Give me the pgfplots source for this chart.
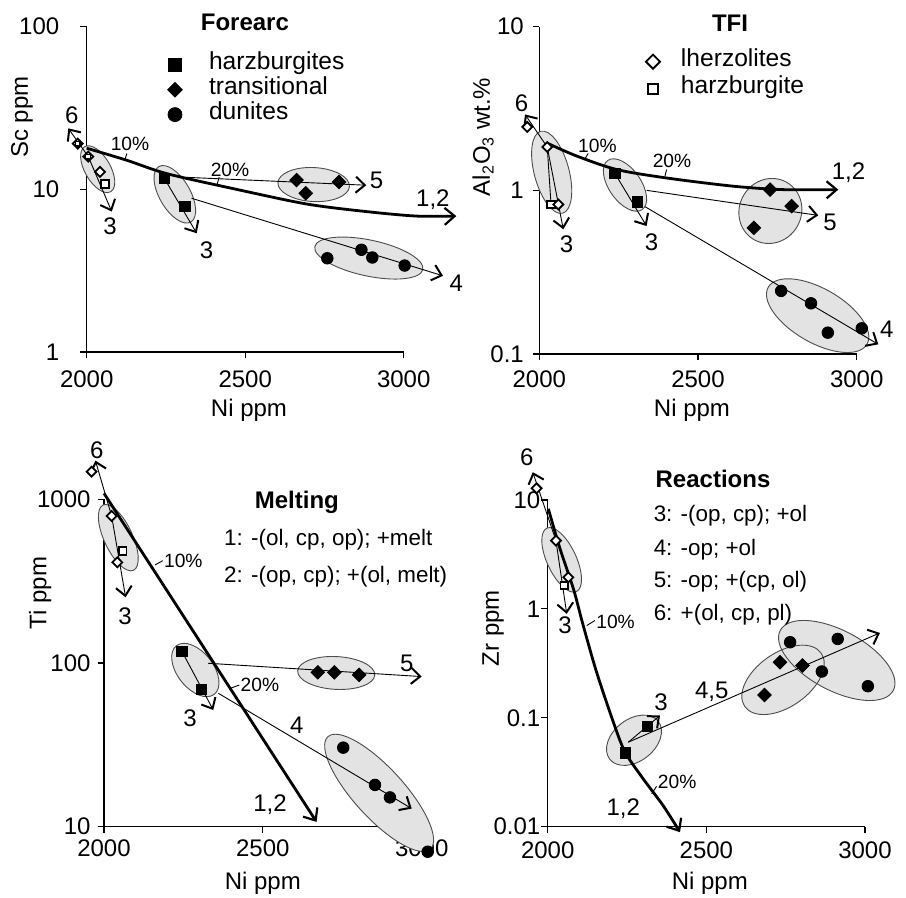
\documentclass[border=0pt]{standalone}
\usepackage{fontspec}
\setmainfont{Liberation Sans}
\setsansfont{Liberation Sans}
\usepackage{pgfplots}
\pgfplotsset{compat=1.18}
\usetikzlibrary{arrows.meta}
\newcommand\fs{\fontsize{12}{14.4}\selectfont}
\newcommand\fsl{\fontsize{12.3}{14.8}\selectfont}
\newcommand\fsp{\fontsize{9.6}{11.5}\selectfont}
\newcommand\fsr{\fontsize{11.2}{13.4}\selectfont}
\definecolor{efill}{gray}{0.89}
\definecolor{edraw}{gray}{0.3}
\newcommand\EF[5]{\fill[efill, rotate around={#5:(axis cs:#1,#2)}] (axis cs:#1,#2) ellipse [x radius=#3pt, y radius=#4pt];}
\newcommand\ED[5]{\draw[edraw, line width=0.45pt, rotate around={#5:(axis cs:#1,#2)}] (axis cs:#1,#2) ellipse [x radius=#3pt, y radius=#4pt];}
\newcommand\EE[5]{\EF{#1}{#2}{#3}{#4}{#5}\ED{#1}{#2}{#3}{#4}{#5}}
\pgfplotsset{
  panel/.style={
    scale only axis, clip=false,
    axis lines*=left, axis line style={-, line width=0.6pt},
    xmin=2000, xmax=3000, enlargelimits=false,
    xtick={2000,2500,3000}, xticklabels={2000,2500,3000},
    yminorticks=false, xminorticks=false,
    tick align=outside, major tick length=3.2pt,
    tick style={black, line width=0.6pt},
    every tick label/.append style={font=\fs},
    label style={font=\fs},
    xlabel={Ni ppm},
    /pgf/number format/assume math mode=true,
    legend cell align=left,
  },
  legimg/.style={legend image code/.code={\pgfpathrectangle{\pgfpoint{0pt}{-3pt}}{\pgfpoint{12pt}{6pt}}\pgfusepath{}\draw[##1] plot coordinates {(6pt,0pt)};}},
  harz/.style={only marks, mark=square*, mark size=2.6pt, black},
  trans/.style={only marks, mark=square*, mark size=2.4pt, black, mark options={rotate=45}},
  dun/.style={only marks, mark=*, mark size=2.9pt, black},
  lherz/.style={only marks, mark=square*, mark size=1.75pt, black, mark options={rotate=45, fill=white, draw=black, line width=0.9pt}},
  oharz/.style={only marks, mark=square*, mark size=1.9pt, black, mark options={fill=white, draw=black, line width=0.9pt}},
  tl/.style={black, line width=0.45pt},
  arr/.style={black, line width=0.45pt, -{Straight Barb[length=4.5pt,width=8pt,line width=1pt]}},
  meltc/.style={black, line width=1.4pt, smooth, -{Straight Barb[length=5pt,width=8.5pt,line width=1.1pt]}},
}
\begin{document}
\begin{tikzpicture}
\useasboundingbox (0pt,0pt) rectangle (453pt,449pt);

% ---------------- Forearc ----------------
\begin{semilogyaxis}[panel, at={(43.35pt,273pt)}, anchor=south west,
  width=158.5pt, height=162.65pt,
  ymin=1, ymax=100, ytick={1,10,100}, yticklabels={1,10,100},
  yticklabel style={xshift=-7pt}, xticklabel style={yshift=-2.5pt},
  ylabel={Sc ppm},
  ylabel style={at={(axis description cs:-0.204,0.722)}, anchor=center},
  xlabel style={at={(axis description cs:0.512,-0.178)}, anchor=center},
  legend style={at={(axis description cs:0.2407,0.9135)}, anchor=north west, draw=none, fill=none,
    inner sep=0pt, outer sep=0pt, font=\fsl, row sep=2.45pt, column sep=11pt,
    nodes={inner sep=0pt, text height=0.75em, text depth=0.25em}},
]
\addlegendimage{harz, mark size=3.1pt, legimg}
\addlegendimage{trans, mark size=2.6pt, legimg}
\addlegendimage{dun, mark size=3.5pt, legimg}
\legend{harzburgites, transitional, dunites}
\EE{2034.7}{13.3}{13}{6.4}{-60}
\EE{2278}{9.32}{16}{7.7}{-60}
\EE{2716}{10.7}{17.9}{8.5}{-3}
\EE{2890}{3.78}{27.6}{9}{-12}
\addplot[arr] coordinates {(2005,15.9) (1942,23.7)};
\addplot[arr] coordinates {(2005,15.9) (2079,7.3)};
\addplot[arr] coordinates {(2244.7,11.7) (2347,5.37)};
\addplot[arr] coordinates {(2315,11.85) (2882,10.6)};
\addplot[arr] coordinates {(2331,8.81) (3124,2.94)};
\addplot[meltc] coordinates {(2000,17.9) (2126,15.1) (2252,12.5) (2462,10.1) (2693,8.13) (2882,7.3) (3040,6.85) (3166,6.85)};
\addplot[tl] coordinates {(2120,15.2) (2127,16.6)};
\addplot[tl] coordinates {(2411,10.65) (2418,11.9)};
\addplot[lherz] coordinates {(1971.6,19.1) (2005,15.9) (2042,12.8)};
\addplot[oharz, mark size=1.2pt, mark options={line width=0.6pt, fill=white, draw=black}] coordinates {(1971.6,19.1) (2005,15.9)};
\addplot[oharz] coordinates {(2058,10.8)};
\addplot[harz] coordinates {(2244.7,11.7) (2310,7.83)};
\addplot[trans] coordinates {(2662,11.4) (2691,9.45) (2796,11.1)};
\addplot[dun] coordinates {(2759,3.77) (2866.6,4.25) (2901,3.81) (3003,3.40)};
\node[font=\fs\bfseries] at (axis description cs:0.499,1.0145) {Forearc};
\node[font=\fs] at (axis cs:1952.7,28.6) {6};
\node[font=\fs] at (axis cs:2073.5,5.91) {3};
\node[font=\fs] at (axis cs:2378,4.25) {3};
\node[font=\fs] at (axis cs:2914,11.4) {5};
\node[font=\fs] at (axis cs:3092,8.6) {1,2};
\node[font=\fs] at (axis cs:3166,2.65) {4};
\node[font=\fsp] at (axis cs:2136.5,19.1) {10\%};
\node[font=\fsp] at (axis cs:2452,13.1) {20\%};
\end{semilogyaxis}

% ---------------- TFI ----------------
\begin{semilogyaxis}[panel, at={(269.65pt,272pt)}, anchor=south west,
  width=158.7pt, height=163.65pt,
  ymin=0.1, ymax=10, ytick={0.1,1,10}, yticklabels={0.1,1,10},
  yticklabel style={xshift=-1pt}, xticklabel style={yshift=-1.5pt},
  ylabel={Al\textsubscript{2}O\textsubscript{3} wt.\%},
  ylabel style={at={(axis description cs:-0.177,0.663)}, anchor=center},
  xlabel style={at={(axis description cs:0.481,-0.171)}, anchor=center},
  legend style={at={(axis description cs:0.3204,0.9236)}, anchor=north west, draw=none, fill=none,
    inner sep=0pt, outer sep=0pt, font=\fsl, row sep=3.55pt, column sep=8pt,
    nodes={inner sep=0pt, text height=0.75em, text depth=0.25em}},
]
\addlegendimage{lherz, mark size=2.5pt, legimg}
\addlegendimage{oharz, mark size=2.5pt, legimg}
\legend{lherzolites, harzburgite}
\EE{2039}{1.29}{21.2}{8.7}{-75}
\EE{2270}{1.078}{15}{8}{-55}
\EE{2728}{0.748}{16.5}{15.5}{60}
\EE{2877}{0.1715}{28.5}{13.5}{-30}
\addplot[arr] coordinates {(2025,1.84) (1955,2.91)};
\addplot[arr] coordinates {(2025,1.84) (2075.6,0.578)};
\addplot[tl] coordinates {(2025,1.84) (2037,0.82)};
\addplot[arr] coordinates {(2238,1.27) (2338,0.605)};
\addplot[arr] coordinates {(2338,1.0) (2879,0.703)};
\addplot[arr] coordinates {(2333,0.795) (3068,0.1146)};
\addplot[meltc] coordinates {(2023,1.95) (2118,1.62) (2244,1.34) (2401,1.19) (2611,1.06) (2769,1.01) (2942,1.01)};
\addplot[tl] coordinates {(2144,1.56) (2154,1.68)};
\addplot[tl] coordinates {(2396,1.22) (2401,1.34)};
\addplot[lherz] coordinates {(1962,2.44) (2025,1.84)};
\addplot[oharz] coordinates {(2037,0.82)};
\addplot[lherz] coordinates {(2060,0.82)};
\addplot[harz] coordinates {(2238,1.27) (2309,0.849)};
\addplot[trans] coordinates {(2727,1.01) (2795,0.80) (2676,0.59)};
\addplot[dun] coordinates {(2762,0.243) (2856,0.204) (2909,0.135) (3016,0.1435)};
\node[font=\fs\bfseries] at (axis description cs:0.601,1.0113) {TFI};
\node[font=\fs] at (axis cs:1944,3.43) {6};
\node[font=\fs] at (axis cs:2086,0.468) {3};
\node[font=\fs] at (axis cs:2354,0.479) {3};
\node[font=\fs] at (axis cs:2916,0.634) {5};
\node[font=\fs] at (axis cs:2974,1.28) {1,2};
\node[font=\fs] at (axis cs:3094.5,0.1415) {4};
\node[font=\fsp] at (axis cs:2183,1.87) {10\%};
\node[font=\fsp] at (axis cs:2418,1.51) {20\%};
\end{semilogyaxis}

% ---------------- Melting ----------------
\begin{semilogyaxis}[panel, at={(52pt,35.65pt)}, anchor=south west,
  width=158.85pt, height=163.7pt,
  ymin=10, ymax=1000, ytick={10,100,1000}, yticklabels={10,100,1000},
  ylabel={Ti ppm},
  ylabel style={at={(axis description cs:-0.201,0.714)}, anchor=center},
  xlabel style={at={(axis description cs:0.5,-0.172)}, anchor=center},
]
\EE{2045}{583}{18}{7.1}{-65}
\EE{2287.5}{90.6}{15.4}{9}{-52}
\EE{2731}{86.9}{19.3}{8.2}{-3}
\EE{2866}{16.1}{38}{12.5}{-47.6}
\addplot[arr] coordinates {(2024,791) (1973,1722)};
\addplot[arr] coordinates {(2024,791) (2068,252)};
\addplot[arr] coordinates {(2245,118) (2344,51.6)};
\addplot[arr] coordinates {(2328,99.6) (3000,82.6)};
\addplot[arr] coordinates {(2360,65.3) (2968.5,12.9)};
\addplot[meltc] coordinates {(2000,1088) (2669,10.7)};
\addplot[tl] coordinates {(2160.5,397) (2184.8,421.7)};
\addplot[tl] coordinates {(2396.6,70) (2426,73.3)};
\addplot[lherz] coordinates {(1961,1475) (2024,791)};
\addplot[oharz] coordinates {(2059,483)};
\addplot[lherz] coordinates {(2042,412)};
\addplot[harz] coordinates {(2245,118) (2307,69)};
\addplot[trans] coordinates {(2673,87.7) (2725,87.7) (2803,84.5)};
\addplot[dun] coordinates {(2753,30.4) (2853,18.0) (2900,15.1) (3019,7.03)};
\node[font=\fs\bfseries] at (axis description cs:0.607,0.992) {Melting};
\node[font=\fsr, anchor=west] at (axis description cs:0.356,0.876) {1: -(ol, cp, op); +melt};
\node[font=\fsr, anchor=west] at (axis description cs:0.356,0.764) {2: -(op, cp); +(ol, melt)};
\node[font=\fs] at (axis cs:1977,2000) {6};
\node[font=\fs] at (axis cs:2066,192) {3};
\node[font=\fs] at (axis cs:2271,45.9) {3};
\node[font=\fs] at (axis cs:2953,99.6) {5};
\node[font=\fs] at (axis cs:2606.5,41.8) {4};
\node[font=\fs] at (axis cs:2522.6,13.6) {1,2};
\node[font=\fsp, anchor=west, inner sep=0.5pt] at (axis cs:2184.8,421.7) {10\%};
\node[font=\fsp, anchor=west, inner sep=0.5pt] at (axis cs:2426,73.3) {20\%};
\end{semilogyaxis}

% ---------------- Reactions ----------------
\begin{semilogyaxis}[panel, at={(273.85pt,35.65pt)}, anchor=south west,
  width=158.65pt, height=163.35pt,
  ymin=0.01, ymax=10, ytick={0.01,0.1,1,10}, yticklabels={0.01,0.1,1,10},
  yticklabel style={xshift=3pt}, xticklabel style={yshift=-1pt},
  ylabel={Zr ppm},
  ylabel style={at={(axis description cs:-0.172,0.608)}, anchor=center},
  xlabel style={at={(axis description cs:0.511,-0.172)}, anchor=center},
]
\EF{2044}{2.82}{17.5}{7.3}{-65}
\EF{2272}{0.0622}{15.4}{10.5}{38}
\EF{2911}{0.336}{32}{15}{-28}
\EF{2741.6}{0.223}{23.3}{13.5}{35}
\ED{2044}{2.82}{17.5}{7.3}{-65}
\ED{2272}{0.0622}{15.4}{10.5}{38}
\ED{2911}{0.336}{32}{15}{-28}
\ED{2741.6}{0.223}{23.3}{13.5}{35}
\addplot[arr] coordinates {(2026,4.24) (1953,18.0)};
\addplot[arr] coordinates {(2026,4.24) (2060,0.9)};
\addplot[arr] coordinates {(2254,0.0597) (2354,0.105)};
\addplot[arr] coordinates {(2254,0.0597) (3047,0.602)};
\addplot[meltc] coordinates {(2002,8.3) (2039,3.56) (2081,1.53) (2112,0.703) (2154,0.263) (2207,0.0911) (2244,0.0483) (2301,0.0275) (2364,0.0156) (2417,0.0089)};
\addplot[tl] coordinates {(2123,0.703) (2149,0.782)};
\addplot[tl] coordinates {(2327.7,0.020) (2343,0.0235)};
\addplot[lherz] coordinates {(1965,12.8) (2026,4.24) (2065,1.95)};
\addplot[oharz] coordinates {(2052.5,1.64)};
\addplot[harz] coordinates {(2244,0.0476) (2314,0.0837)};
\addplot[trans] coordinates {(2683,0.162) (2732,0.324) (2803,0.302)};
\addplot[dun] coordinates {(2764,0.494) (2914,0.53) (2864,0.266) (3009,0.195)};
\node[font=\fs\bfseries] at (axis description cs:0.521,1.064) {Reactions};
\node[font=\fsr, anchor=west] at (axis description cs:0.312,0.951) {3: -(op, cp); +ol};
\node[font=\fsr, anchor=west] at (axis description cs:0.312,0.849) {4: -op; +ol};
\node[font=\fsr, anchor=west] at (axis description cs:0.312,0.750) {5: -op; +(cp, ol)};
\node[font=\fsr, anchor=west] at (axis description cs:0.312,0.648) {6: +(ol, cp, pl)};
\node[font=\fs] at (axis cs:1934,24.7) {6};
\node[font=\fs] at (axis cs:2055,0.703) {3};
\node[font=\fs] at (axis cs:2357,0.139) {3};
\node[font=\fs] at (axis cs:2517,0.172) {4,5};
\node[font=\fs] at (axis cs:2238,0.0146) {1,2};
\node[font=\fsp, anchor=west, inner sep=0.5pt] at (axis cs:2149,0.754) {10\%};
\node[font=\fsp, anchor=west, inner sep=0.5pt] at (axis cs:2343,0.0256) {20\%};
\end{semilogyaxis}
\end{tikzpicture}
\end{document}
